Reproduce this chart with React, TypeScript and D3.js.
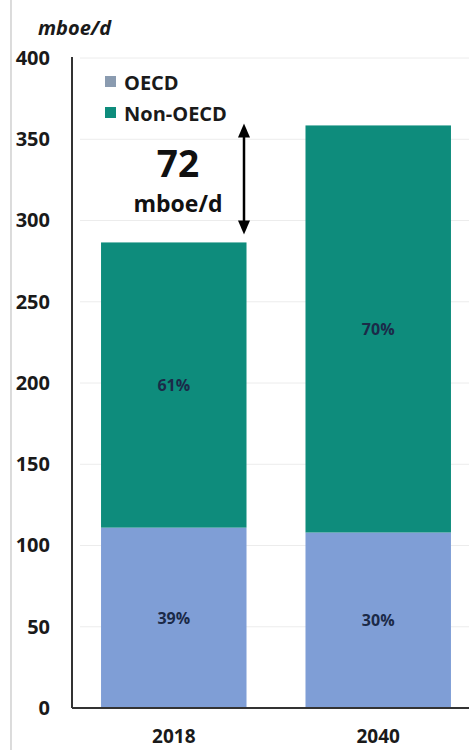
import React, { useEffect, useRef } from 'react';
import * as d3 from 'd3';

// Datos del gráfico (mboe/d)
const years = ['2018', '2040'];
const oecd = [111, 108];
const nonOecd = [175.5, 250.5];
const yTicks = [0, 50, 100, 150, 200, 250, 300, 350, 400];
const seriesNames = ['OECD', 'Non-OECD'];

const W = 469;
const H = 750;
const FONT = "'Open Sans', 'DejaVu Sans', sans-serif";
const COL_OECD = '#7f9ed6';
const COL_NON = '#0e8c7c';
const TEXT = '#1a1a1a';

const App = () => {
    const svgRef = useRef(null);

    useEffect(() => {
        const svg = d3.select(svgRef.current);
        svg.selectAll('*').remove();

        // Escalas
        const x = d3.scaleBand().domain(years).range([72, 480]).paddingInner(0.2885).paddingOuter(0.142);
        const y = d3.scaleLinear().domain([0, 400]).range([708, 58]);

        // borde izquierdo gris
        svg.append('line').attr('x1', 11).attr('x2', 11).attr('y1', 0).attr('y2', H)
            .attr('stroke', '#c4c4c4').attr('stroke-width', 1.2);

        // Líneas de cuadrícula
        svg.append('g').selectAll('line').data(yTicks.filter(t => t > 0)).join('line')
            .attr('x1', 80).attr('x2', W).attr('y1', d => y(d)).attr('y2', d => y(d))
            .attr('stroke', '#ececec').attr('stroke-width', 1);

        // Barras apiladas
        const stacked = years.map((yr, i) => ({ yr, a: oecd[i], b: nonOecd[i], total: oecd[i] + nonOecd[i] }));
        const bars = svg.append('g');
        bars.selectAll('rect.oecd').data(stacked).join('rect')
            .attr('class', 'oecd')
            .attr('x', d => x(d.yr)).attr('width', x.bandwidth())
            .attr('y', d => y(d.a)).attr('height', d => y(0) - y(d.a))
            .attr('fill', COL_OECD);
        bars.selectAll('rect.non').data(stacked).join('rect')
            .attr('class', 'non')
            .attr('x', d => x(d.yr)).attr('width', x.bandwidth())
            .attr('y', d => y(d.total)).attr('height', d => y(d.a) - y(d.total))
            .attr('fill', COL_NON);

        // Porcentajes
        const pct = svg.append('g').attr('font-family', FONT).attr('font-size', 16).attr('font-weight', 700)
            .attr('fill', '#1b2a48').attr('text-anchor', 'middle').attr('dominant-baseline', 'central');
        stacked.forEach(d => {
            const cx = x(d.yr) + x.bandwidth() / 2;
            pct.append('text').attr('x', cx).attr('y', y(d.a / 2))
                .text(`${Math.round(d.a / d.total * 100)}%`);
            pct.append('text').attr('x', cx).attr('y', y(d.a + d.b / 2))
                .text(`${Math.round(d.b / d.total * 100)}%`);
        });

        // Eje Y
        const yAxis = svg.append('g').attr('transform', 'translate(72,0)')
            .call(d3.axisLeft(y).tickValues(yTicks).tickSize(0).tickPadding(22));
        yAxis.select('.domain').remove();
        yAxis.selectAll('text').attr('font-family', FONT).attr('font-size', 20).attr('font-weight', 700)
            .attr('fill', TEXT);
        svg.append('line').attr('x1', 72).attr('x2', 72).attr('y1', 57).attr('y2', y(0))
            .attr('stroke', '#333').attr('stroke-width', 2);
        svg.append('line').attr('x1', 72).attr('x2', W).attr('y1', y(0)).attr('y2', y(0))
            .attr('stroke', '#333').attr('stroke-width', 2);

        // Eje X
        const xAxis = svg.append('g').attr('transform', `translate(0,${y(0)})`)
            .call(d3.axisBottom(x).tickSize(0).tickPadding(22));
        xAxis.select('.domain').remove();
        xAxis.selectAll('text').attr('font-family', FONT).attr('font-size', 19).attr('font-weight', 700)
            .attr('fill', TEXT);

        // Título del eje
        svg.append('text').attr('x', 38).attr('y', 35).attr('font-family', FONT).attr('font-size', 20)
            .attr('font-style', 'italic').attr('font-weight', 700).attr('fill', TEXT).text('mboe/d');

        // Leyenda
        const colors = ['#8a9bb0', COL_NON];
        const leg = svg.append('g').attr('font-family', FONT).attr('font-size', 20).attr('font-weight', 700);
        seriesNames.forEach((n, i) => {
            const ly = 82 + i * 31;
            leg.append('rect').attr('x', 105).attr('y', ly - 6).attr('width', 11).attr('height', 11).attr('fill', colors[i]);
            leg.append('text').attr('x', 124).attr('y', ly).attr('dominant-baseline', 'central')
                .attr('fill', TEXT).text(n);
        });

        // Anotación de diferencia
        const diff = stacked[1].total - stacked[0].total;
        svg.append('text').attr('x', 178).attr('y', 177).attr('text-anchor', 'middle')
            .attr('font-family', FONT).attr('font-size', 37).attr('font-weight', 700).attr('fill', '#111')
            .text(Math.round(diff));
        svg.append('text').attr('x', 178).attr('y', 212).attr('text-anchor', 'middle')
            .attr('font-family', FONT).attr('font-size', 23).attr('font-weight', 700).attr('fill', '#111')
            .text('mboe/d');

        const ax = 244;
        const yTop = y(stacked[1].total) - 2;
        const yBot = y(stacked[0].total) - 8;
        svg.append('line').attr('x1', ax).attr('x2', ax).attr('y1', yTop + 12).attr('y2', yBot - 12)
            .attr('stroke', '#000').attr('stroke-width', 2.5);
        svg.append('path').attr('d', `M${ax},${yTop} L${ax - 6},${yTop + 14} L${ax + 6},${yTop + 14} Z`).attr('fill', '#000');
        svg.append('path').attr('d', `M${ax},${yBot} L${ax - 6},${yBot - 14} L${ax + 6},${yBot - 14} Z`).attr('fill', '#000');
    }, []);

    return (
        <svg ref={svgRef} width={W} height={H} style={{ position: 'absolute', left: 0, top: 0, background: '#fff' }}></svg>
    );
};

export default App;
